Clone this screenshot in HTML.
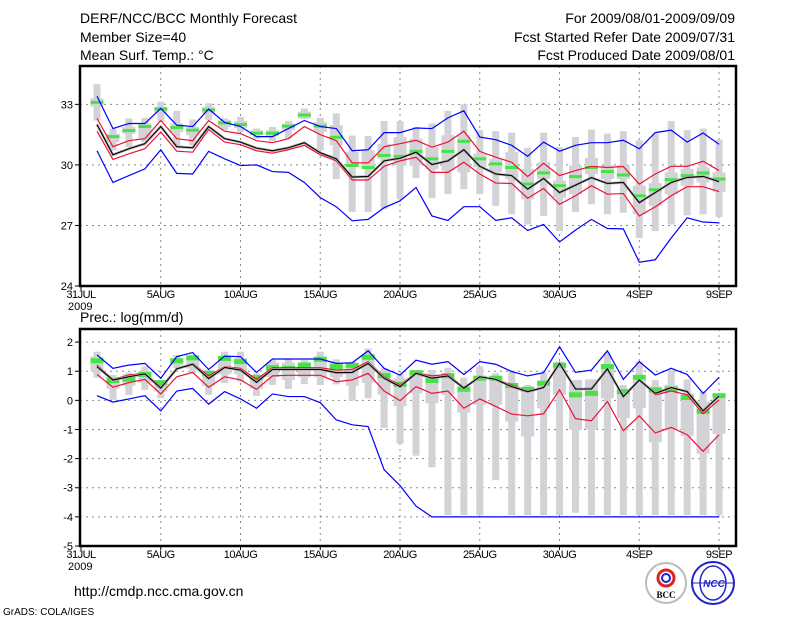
<!DOCTYPE html>
<html><head><meta charset="utf-8">
<style>
html,body{margin:0;padding:0;background:#fff;}
svg{display:block;font-family:"Liberation Sans",sans-serif;}
</style></head>
<body>
<svg id="chart" width="800" height="618" viewBox="0 0 800 618" xmlns="http://www.w3.org/2000/svg">
<g font-size="14" fill="#000">
<text x="80" y="23">DERF/NCC/BCC Monthly Forecast</text>
<text x="80" y="42">Member Size=40</text>
<text x="80" y="60">Mean Surf. Temp.: °C</text>
<text x="735" y="23" text-anchor="end">For 2009/08/01-2009/09/09</text>
<text x="735" y="42" text-anchor="end">Fcst Started Refer Date 2009/07/31</text>
<text x="735" y="60" text-anchor="end">Fcst Produced Date 2009/08/01</text>
<text x="80" y="322">Prec.: log(mm/d)</text>
<text x="74" y="596">http://cmdp.ncc.cma.gov.cn</text>
<text x="3" y="615" font-size="10">GrADS: COLA/IGES</text>
</g>
<g>
<circle cx="666" cy="583" r="20" fill="#fff" stroke="#bbb" stroke-width="2"/>
<circle cx="666" cy="578" r="8" fill="none" stroke="#d22" stroke-width="3"/>
<circle cx="666" cy="578" r="4" fill="none" stroke="#22c" stroke-width="2"/>
<text x="666" y="598" font-size="9" text-anchor="middle" font-family="Liberation Serif,serif" font-weight="bold">BCC</text>
</g>
<g>
<circle cx="713" cy="583" r="21" fill="#fff" stroke="#22c" stroke-width="2"/>
<ellipse cx="713" cy="583" rx="13" ry="17" fill="none" stroke="#22c" stroke-width="1.5"/>
<line x1="692" y1="583" x2="734" y2="583" stroke="#22c"/>
<text x="714" y="587" font-size="10" text-anchor="middle" fill="#22c" font-style="italic" font-weight="bold">NCC</text>
</g>
<g id="plots"></g>
</svg>
<script>
// ---------- data ----------
const days = ["31JUL","5AUG","10AUG","15AUG","20AUG","25AUG","30AUG","4SEP","9SEP"];
const tTicks = [24,27,30,33];
const pTicks = [-5,-4,-3,-2,-1,0,1,2];

const tBlueHi = [33.4,31.8,32.05,32.05,32.8,31.97,31.9,32.77,32.1,31.9,31.4,31.4,31.8,32.2,31.9,31.8,30.7,30.75,31.6,31.6,31.83,31.8,32.33,32.68,31.38,31.25,30.97,30.43,31.13,30.68,30.97,31.1,31.1,31.22,30.8,31.6,31.72,31.13,31.58,31.02];
const tRedHi = [32.3,30.9,31.2,31.3,32.2,31.3,31.2,32.2,31.67,31.55,31.2,31.1,31.3,31.9,31.5,31.2,30.1,30.1,30.9,31.05,31.22,30.88,31.13,31.67,30.67,30.38,30.13,29.42,30.08,29.47,29.72,29.93,29.87,29.92,29.05,29.55,29.93,29.93,30.18,29.72];
const tMean = [32.0,30.5,30.8,31.05,31.9,30.9,30.85,31.9,31.3,31.13,30.83,30.7,30.85,31.1,30.6,30.3,29.4,29.43,30.2,30.33,30.63,30.02,30.2,30.75,29.93,29.55,29.47,28.8,29.33,28.63,29.0,29.37,29.08,29.13,28.13,28.63,29.13,29.38,29.43,29.17];
const tRedLo = [31.67,30.27,30.55,30.8,31.63,30.68,30.63,31.75,31.13,31.0,30.7,30.58,30.75,30.97,30.5,30.2,29.25,29.25,29.93,30.2,30.38,29.63,29.63,30.13,29.55,29.1,29.08,28.35,28.83,28.05,28.47,28.97,28.55,28.58,27.47,27.92,28.47,28.92,28.92,28.68];
const tBlueLo = [30.7,29.13,29.47,29.8,30.75,29.58,29.55,30.67,30.3,29.97,30.0,29.67,29.63,29.13,28.38,27.93,27.23,27.3,27.88,28.22,28.88,27.47,27.25,27.93,27.93,27.25,27.38,26.75,27.05,26.18,26.77,27.3,26.85,26.83,25.18,25.3,26.38,27.38,27.17,27.13];
const tObs = [33.1,31.4,31.7,31.9,32.77,31.85,31.72,32.72,32.08,32.0,31.57,31.57,31.92,32.47,31.92,31.37,29.97,29.87,30.47,30.42,30.67,30.3,30.67,31.17,30.3,30.05,29.87,29.05,29.6,28.97,29.42,29.87,29.67,29.5,28.47,28.77,29.27,29.47,29.6,29.3];
const tWhiskHi = [34.0,31.8,32.3,32.33,33.13,32.68,32.25,33.05,32.3,32.38,31.8,31.88,32.18,32.8,32.33,32.55,31.45,31.43,32.17,32.17,31.88,32.05,32.68,33.0,31.72,31.67,31.6,30.85,31.6,30.88,31.38,31.75,31.55,31.67,31.22,31.55,32.17,31.72,31.8,31.25];
const tWhiskLo = [32.2,30.72,30.88,31.13,32.13,30.97,30.97,32.22,31.72,31.63,31.3,31.17,31.3,32.27,30.72,29.3,27.67,27.67,27.8,28.3,29.35,28.35,28.55,28.8,28.55,27.97,27.55,27.05,27.47,26.72,27.67,28.05,27.55,27.63,26.38,26.72,27.05,27.5,27.55,27.42];
const tBoxHi = [33.3,31.55,31.88,32.05,32.88,32.05,31.88,32.88,32.22,32.17,31.72,31.72,32.05,32.63,32.13,31.97,30.63,30.72,31.05,31.38,31.3,30.88,31.47,31.47,30.55,30.3,30.63,29.8,30.13,29.22,29.97,30.35,29.97,30.0,28.97,29.1,29.63,29.8,29.88,29.63];
const tBoxLo = [32.9,31.13,31.55,31.3,32.55,31.63,31.47,32.55,31.88,31.83,31.47,31.43,31.72,32.3,31.63,30.97,29.97,29.8,30.3,29.97,30.0,29.8,29.72,29.63,29.88,29.63,29.3,28.3,29.3,28.38,28.55,29.55,29.3,29.3,27.55,27.97,28.55,28.97,29.13,28.67];

const pBlueHi = [1.56,1.1,1.21,1.27,0.76,1.5,1.64,1.06,1.52,1.5,0.96,1.42,1.42,1.42,1.42,1.27,1.29,1.7,1.1,0.87,1.38,1.24,1.33,0.89,1.33,1.24,0.99,0.84,0.95,1.84,0.96,1.04,1.7,0.72,1.33,0.87,1.1,0.89,0.24,0.79];
const pRedHi = [1.21,0.72,0.87,0.93,0.47,1.1,1.27,0.84,1.16,1.1,0.72,1.12,1.12,1.12,1.12,1.04,1.06,1.33,0.81,0.53,0.95,0.84,0.89,0.45,0.81,0.73,0.53,0.32,0.45,1.3,0.39,0.42,1.1,0.13,0.7,0.19,0.32,0.19,-0.46,0.02];
const pMean = [1.16,0.7,0.81,0.91,0.42,1.08,1.24,0.75,1.13,1.04,0.62,1.06,1.06,1.06,1.06,0.95,0.96,1.27,0.76,0.47,0.93,0.76,0.84,0.42,0.81,0.72,0.47,0.3,0.44,1.27,0.39,0.39,1.08,0.13,0.7,0.24,0.44,0.3,-0.36,0.15];
const pRedLo = [0.89,0.45,0.61,0.72,0.22,0.81,0.96,0.45,0.81,0.7,0.38,0.84,0.86,0.86,0.86,0.64,0.7,0.93,0.32,-0.01,0.47,0.24,0.32,-0.27,0.05,-0.21,-0.47,-0.53,-0.46,0.36,-0.63,-0.7,-0.04,-1.04,-0.53,-1.12,-0.93,-1.18,-1.75,-1.18];
const pBlueLo = [0.16,-0.06,0.05,0.16,-0.36,0.32,0.41,-0.13,0.3,0.05,-0.27,0.22,0.13,0.13,-0.08,-0.67,-0.84,-0.9,-2.38,-2.93,-3.63,-4,-4,-4,-4,-4,-4,-4,-4,-4,-4,-4,-4,-4,-4,-4,-4,-4,-4,-4];
const pObs = [1.36,0.68,0.73,0.89,0.61,1.36,1.46,0.93,1.44,1.33,0.78,1.12,1.1,1.21,1.41,1.16,1.2,1.48,0.85,0.55,0.95,0.68,0.85,0.38,0.76,0.76,0.51,0.38,0.59,1.21,0.19,0.24,1.16,0.3,0.79,0.36,0.39,0.1,-0.38,0.16];
const pWhiskHi = [1.67,0.87,0.95,1.16,0.67,1.56,1.56,1.04,1.67,1.67,0.93,1.38,1.41,1.38,1.67,1.41,1.33,1.78,1.1,0.9,1.04,1.04,1.12,0.78,1.16,0.93,0.99,0.53,0.95,1.33,0.7,0.72,1.64,0.53,1.33,0.7,1.04,0.72,0.3,0.19];
const pWhiskLo = [0.78,0.02,0.19,0.36,0.07,1.1,0.93,0.19,0.59,0.64,0.15,0.53,0.39,0.56,0.53,0.55,-0.01,0.07,-0.95,-1.49,-1.9,-2.3,-3.94,-3.94,-3.94,-2.74,-3.94,-3.94,-3.94,-3.94,-3.86,-3.94,-3.94,-3.94,-3.94,-3.94,-3.94,-3.94,-3.94,-3.94];
const pBoxHi = [1.5,0.8,0.9,1.0,0.6,1.45,1.45,0.95,1.5,1.45,0.85,1.3,1.3,1.3,1.5,1.3,1.2,1.6,1.0,0.75,0.99,0.76,0.87,0.3,0.81,0.7,0.47,0.3,0.59,1.27,0.7,0.72,1.16,0.3,0.7,0.47,0.53,0.24,-0.04,0.07];
const pBoxLo = [1.0,0.4,0.5,0.6,0.3,1.2,1.1,0.5,0.9,0.9,0.4,0.8,0.7,0.8,0.8,0.8,0.5,0.6,0.2,-0.2,0.24,-0.1,0.19,-0.42,-0.15,-0.15,-0.73,-1.24,-0.27,0.19,-1.01,-0.99,0.07,-0.61,-0.27,-1.44,-1.01,-1.22,-1.83,-1.15];

// ---------- drawing ----------
const NS = "http://www.w3.org/2000/svg";
const root = document.getElementById("plots");
const X0 = 80, X1 = 736;
function xDay(i){ return 97 + 15.95 * i; }
function xLabel(k){ return 81 + 79.75 * k; }
function mk(tag, attrs, parent){
  const e = document.createElementNS(NS, tag);
  for (const k in attrs) e.setAttribute(k, attrs[k]);
  (parent || root).appendChild(e);
  return e;
}

function panel(name, top, bottom, vmin, vmax, ticks, fmt, s, greenH){
  const g = mk("g", {});
  
  
  const y = v => bottom - (v - vmin) / (vmax - vmin) * (bottom - top);
  ticks.forEach(t => {
    if (t <= vmin || t >= vmax) return;
    const l = mk("line", {x1:X0, x2:X1, y1:y(t), y2:y(t), stroke:"#888", "stroke-dasharray":"2,4"}, g);
    
    
  });
  days.forEach((d, k) => {
    if (k === 0) return;
    const l = mk("line", {x1:xLabel(k), x2:xLabel(k), y1:top, y2:bottom, stroke:"#888", "stroke-dasharray":"2,4"}, g);
    
    
  });
  for (let i = 0; i < s.wh.length; i++) {
    const w = mk("rect", {x:xDay(i)-3.5, width:7, y:y(s.wh[i]), height:Math.max(1, y(s.wl[i]) - y(s.wh[i])), fill:"#d3d3d7"}, g);
    
    
    const b = mk("rect", {x:xDay(i)-6.5, width:13, y:y(s.bh[i]), height:Math.max(1, y(s.bl[i]) - y(s.bh[i])), fill:"#d3d3d7"}, g);
    
    
  }
  for (let i = 0; i < s.obs.length; i++) {
    const r = mk("rect", {x:xDay(i)-6.5, width:13, y:y(s.obs[i]) - greenH/2, height:greenH, fill:"#44e444"}, g);
    
    
  }
  const lines = [
    ["blue-upper-line", s.bhi, "#0000ff"],
    ["blue-lower-line", s.blo, "#0000ff"],
    ["red-upper-line", s.rhi, "#ee1133"],
    ["red-lower-line", s.rlo, "#ee1133"],
  ];
  lines.forEach(([n, arr, c]) => {
    const p = mk("polyline", {points: arr.map((v,i)=>xDay(i)+","+y(v)).join(" "), fill:"none", stroke:c, "stroke-width":1.2}, g);
    
    
  });
  const halo = mk("polyline", {points: s.mean.map((v,i)=>xDay(i)+","+y(v)).join(" "), fill:"none", stroke:"#b0b0b0", "stroke-width":2.6}, g);
  
  
  const m = mk("polyline", {points: s.mean.map((v,i)=>xDay(i)+","+y(v)).join(" "), fill:"none", stroke:"#000", "stroke-width":1.1}, g);
  
  
  const f = mk("rect", {x:X0, y:top, width:X1-X0, height:bottom-top, fill:"none", stroke:"#000", "stroke-width":2.5}, g);
  
  
  ticks.forEach(t => {
    const tk = mk("line", {x1:X0-5, x2:X0, y1:y(t), y2:y(t), stroke:"#000"}, g);
    
    
    const tx = mk("text", {x:X0-7, y:y(t)+4, "text-anchor":"end", "font-size":11}, g);
    
    
    tx.textContent = fmt(t);
  });
  days.forEach((d, k) => {
    const tk = mk("line", {x1:xLabel(k), x2:xLabel(k), y1:bottom, y2:bottom+4, stroke:"#000"}, g);
    
    
    const tx = mk("text", {x:xLabel(k), y:bottom+12, "text-anchor":"middle", "font-size":11, "letter-spacing":"-0.5"}, g);
    
    
    tx.textContent = d;
  });
  const yr = mk("text", {x:68, y:bottom+24, "font-size":11}, g);
  
  
  yr.textContent = "2009";
}

panel("temperature-panel", 66, 286, 24, 34.9, tTicks, t=>String(t),
  {wh:tWhiskHi, wl:tWhiskLo, bh:tBoxHi, bl:tBoxLo, obs:tObs, bhi:tBlueHi, blo:tBlueLo, rhi:tRedHi, rlo:tRedLo, mean:tMean}, 3);
panel("precipitation-panel", 329, 546, -5, 2.45, pTicks, t=>String(t),
  {wh:pWhiskHi, wl:pWhiskLo, bh:pBoxHi, bl:pBoxLo, obs:pObs, bhi:pBlueHi, blo:pBlueLo, rhi:pRedHi, rlo:pRedLo, mean:pMean}, 5);
</script>
</body></html>
